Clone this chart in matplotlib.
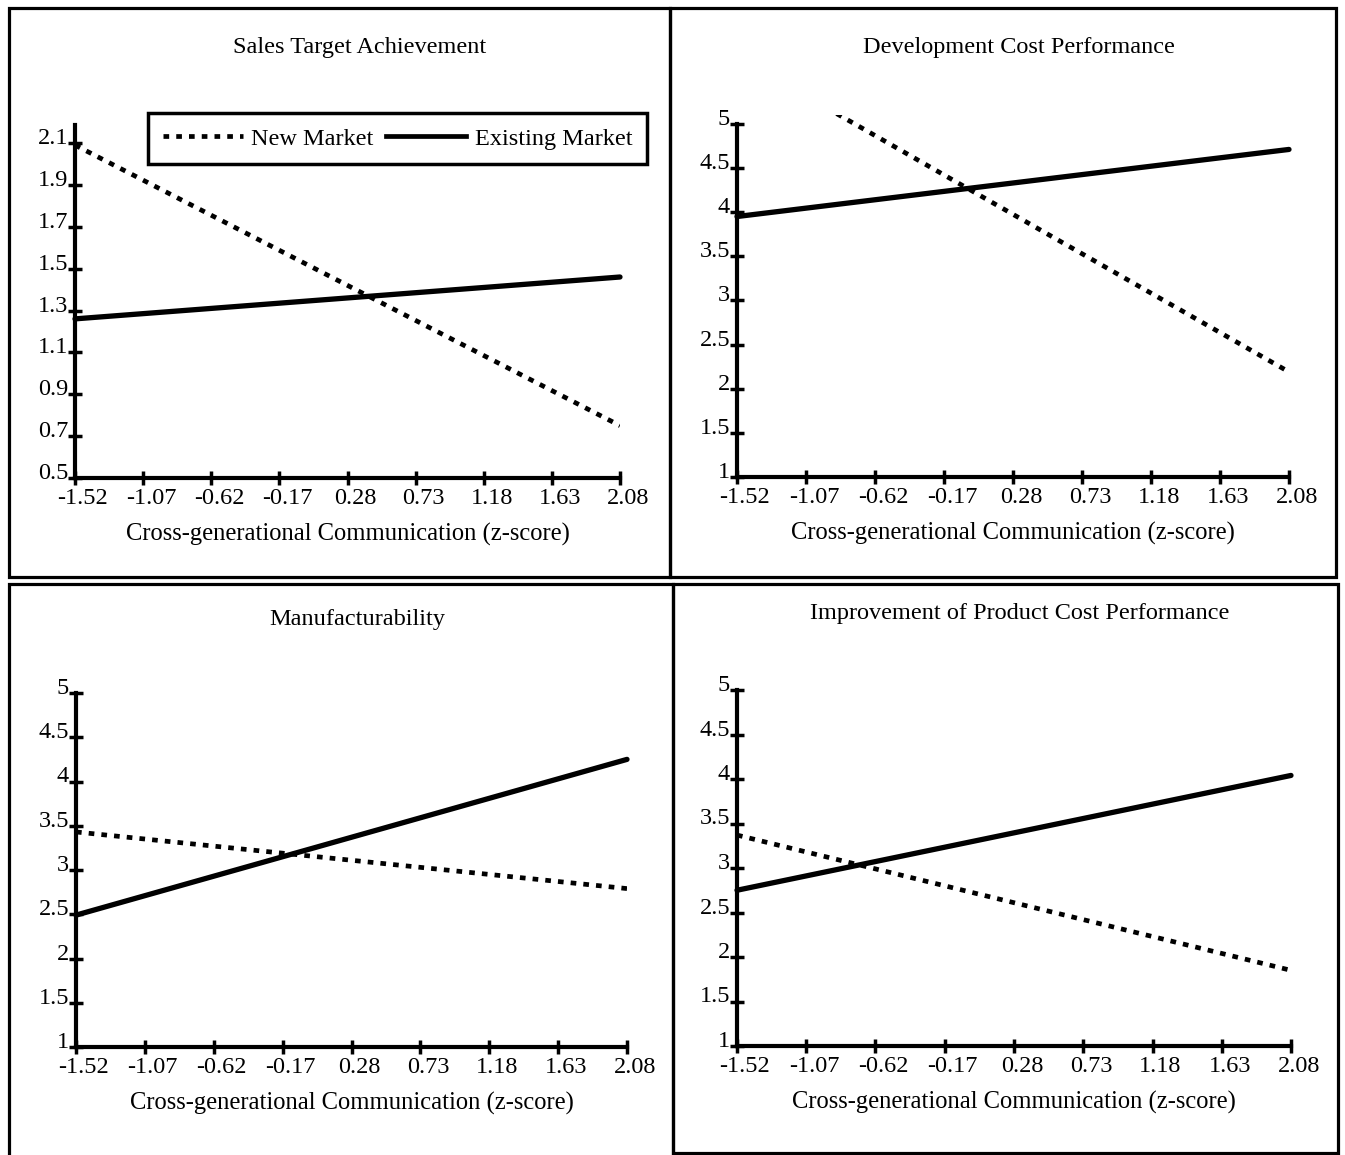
import matplotlib
matplotlib.use("Agg")
import matplotlib.pyplot as plt
import matplotlib.transforms as mtrans
from matplotlib.patches import Rectangle
from matplotlib.lines import Line2D

plt.rcParams['font.family'] = ['Liberation Serif', 'DejaVu Serif']

# x positions (z-scores) and line end values
x_ticks = [-1.52, -1.07, -0.62, -0.17, 0.28, 0.73, 1.18, 1.63, 2.08]
x_ends = [-1.52, 2.08]

titles = ["Sales Target Achievement", "Development Cost Performance",
          "Manufacturability", "Improvement of Product Cost Performance"]

sales_new = [2.09, 0.75]
sales_existing = [1.26, 1.46]
devcost_new = [5.76, 2.19]
devcost_existing = [3.95, 4.71]
manuf_new = [3.43, 2.79]
manuf_existing = [2.49, 4.25]
prodcost_new = [3.37, 1.85]
prodcost_existing = [2.75, 4.04]

sales_yticks = [0.5, 0.7, 0.9, 1.1, 1.3, 1.5, 1.7, 1.9, 2.1]
five_yticks = [1, 1.5, 2, 2.5, 3, 3.5, 4, 4.5, 5]
sales_ylabels = ["0.5", "0.7", "0.9", "1.1", "1.3", "1.5", "1.7", "1.9", "2.1"]
five_ylabels = ["1", "1.5", "2", "2.5", "3", "3.5", "4", "4.5", "5"]

W, H = 1345, 1155
fig = plt.figure(figsize=(W / 100, H / 100), dpi=100)


def px_axes(x0, x1, ytop, ybot):
    return fig.add_axes([x0 / W, 1 - ybot / H, (x1 - x0) / W, (ybot - ytop) / H])


# panel frames (pixel boxes)
for (x0, y0, x1, y1) in [(9, 8, 670, 577), (670, 8, 1336, 577),
                         (9, 584, 673, 1170), (673, 584, 1338, 1153)]:
    fig.add_artist(Rectangle((x0 / W, 1 - y1 / H), (x1 - x0) / W, (y1 - y0) / H,
                             transform=fig.transFigure, fill=False,
                             edgecolor="black", linewidth=2.3))

panels = [
    dict(box=(75, 620, 125, 478), ylim=(0.5, 2.186), spine=(0.5, 2.186),
         yt=sales_yticks, yl=sales_ylabels, new=sales_new, old=sales_existing),
    dict(box=(737, 1289, 115, 477), ylim=(1, 5.1), spine=(1, 5),
         yt=five_yticks, yl=five_ylabels, new=devcost_new, old=devcost_existing),
    dict(box=(76, 627, 693, 1047), ylim=(1, 5), spine=(1, 5),
         yt=five_yticks, yl=five_ylabels, new=manuf_new, old=manuf_existing),
    dict(box=(737, 1291, 690, 1046), ylim=(1, 5), spine=(1, 5),
         yt=five_yticks, yl=five_ylabels, new=prodcost_new, old=prodcost_existing),
]
title_pos = [(360, 47), (1019, 47), (357, 619), (1020, 614)]

dash = (0, (1.2, 1.5))
axes = []
for p in panels:
    ax = px_axes(*p["box"])
    ax.plot(x_ends, p["new"], color="black", lw=3.4, linestyle=dash)
    ax.plot(x_ends, p["old"], color="black", lw=3.8, solid_capstyle="round",
            clip_on=False)
    ax.set_xlim(-1.52, 2.08)
    ax.set_ylim(*p["ylim"])
    for s in ["top", "right"]:
        ax.spines[s].set_visible(False)
    for s in ["left", "bottom"]:
        ax.spines[s].set_linewidth(3)
    ax.spines["left"].set_bounds(*p["spine"])
    ax.set_xticks(x_ticks)
    ax.set_xticklabels([f"{v:.2f}" for v in x_ticks])
    ax.set_yticks(p["yt"])
    ax.set_yticklabels(p["yl"])
    ax.tick_params(direction="inout", length=10, width=2.5, labelsize=17.5, pad=2)
    ax.tick_params(axis="y", pad=0)
    ax.set_xlabel("Cross-generational Communication (z-score)", fontsize=17.7,
                  labelpad=10)
    off_x = mtrans.ScaledTranslation(0.08, 0, fig.dpi_scale_trans)
    for lbl in ax.get_xticklabels():
        lbl.set_transform(lbl.get_transform() + off_x)
    off_y = mtrans.ScaledTranslation(0, 0.07, fig.dpi_scale_trans)
    for lbl in ax.get_yticklabels():
        lbl.set_transform(lbl.get_transform() + off_y)
    axes.append(ax)

for t, (tx, ty) in zip(titles, title_pos):
    fig.text(tx / W, 1 - ty / H, t, ha="center", va="center", fontsize=17.5)

# legend on the first panel
handles = [Line2D([], [], color="black", lw=3.4, linestyle=dash),
           Line2D([], [], color="black", lw=3.4)]
leg = axes[0].legend(handles, ["New Market", "Existing Market"], ncol=2,
                     loc="upper left", bbox_to_anchor=(148 / W, 1 - 113 / H),
                     bbox_transform=fig.transFigure, fontsize=17.5,
                     frameon=True, fancybox=False, edgecolor="black",
                     handlelength=3.3, handletextpad=0.35, columnspacing=0.5,
                     borderpad=0.6, borderaxespad=0)
leg.get_frame().set_linewidth(2.5)
leg.get_frame().set_alpha(1)

fig.savefig("out.png", dpi=100)
